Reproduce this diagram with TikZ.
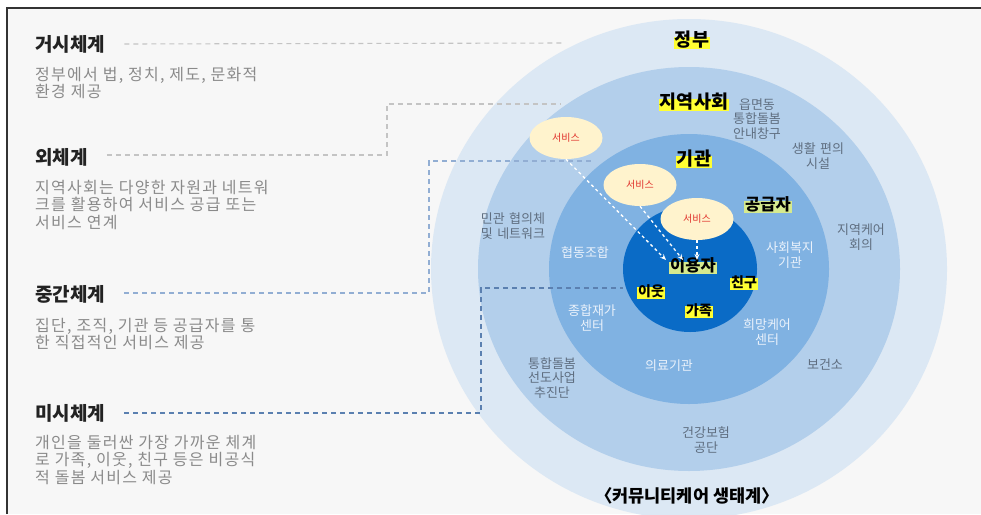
\documentclass[tikz,border=0pt]{standalone}
\usepackage{fontspec}
\setmainfont{Noto Sans CJK KR}
\newfontfamily\descfont[LetterSpace=8]{Noto Sans CJK KR}
\newfontfamily\ringfont[WordSpace=1.5]{Noto Sans CJK KR}
\usetikzlibrary{arrows.meta,shapes.geometric}
\definecolor{bgc}{HTML}{F7F7F7}
\definecolor{frm}{HTML}{333333}
\definecolor{ringa}{HTML}{DCE8F4}
\definecolor{ringb}{HTML}{B3CFEB}
\definecolor{ringc}{HTML}{80B2E2}
\definecolor{ringd}{HTML}{0A6BC6}
\definecolor{hilite}{HTML}{FFFF33}
\definecolor{hilgreen}{HTML}{D6EA8E}
\definecolor{svcfill}{HTML}{FFF3CD}
\definecolor{svctext}{HTML}{E0302A}
\definecolor{headc}{HTML}{222222}
\definecolor{descc}{HTML}{8A8A8A}
\definecolor{ringtxt}{HTML}{5F6E80}
\definecolor{innertxt}{HTML}{EAF2FB}
\definecolor{leadgray}{HTML}{C4C4C4}
\definecolor{leadblue}{HTML}{92AED3}
\definecolor{leaddark}{HTML}{5B80B0}
\tikzset{
  head/.style={anchor=west, inner sep=0pt, text=headc, font=\fontsize{19}{20}\selectfont\bfseries},
  desc/.style={anchor=west, inner sep=0pt, align=left, text=descc, font=\descfont\fontsize{16}{17.3}\selectfont},
  lead/.style={dash pattern=on 5pt off 4pt, line width=1.1pt},
  hl/.style={fill=hilite, inner sep=1.2pt, text height=0.82em, text depth=0.1em, text=black, font=\fontsize{18.5}{20}\selectfont\bfseries},
  hlsmall/.style={fill=hilite, inner sep=1pt, text height=0.82em, text depth=0.1em, text=black, font=\fontsize{14}{16}\selectfont\bfseries},
  hlg/.style={fill=hilgreen, inner sep=1.2pt, text height=0.82em, text depth=0.1em, text=black, font=\fontsize{16.5}{18}\selectfont\bfseries},
  rtxt/.style={align=center, inner sep=0pt, text=ringtxt, font=\ringfont\fontsize{13}{14.8}\selectfont},
  itxt/.style={align=center, inner sep=0pt, text=innertxt, font=\ringfont\fontsize{13}{15.5}\selectfont},
  svc/.style={ellipse, fill=svcfill, minimum width=73pt, minimum height=42pt, inner sep=0pt, text=svctext, font=\fontsize{10}{11}\selectfont},
  svcarrow/.style={white, dashed, line width=1.3pt, -{Stealth[length=6pt,width=5pt]}},
}
\begin{document}
\begin{tikzpicture}[x=1pt,y=-1pt]
\useasboundingbox (0,0) rectangle (981,514);
\fill[white] (0,0) rectangle (981,514);
\fill[bgc] (7,8) rectangle (981,514);
\begin{scope}
\clip (7,8) rectangle (981,514);
\fill[ringa] (689,269) ellipse [x radius=258pt, y radius=250pt];
\fill[ringb] (689,269) ellipse [x radius=211pt, y radius=202pt];
\fill[ringc] (689,269) ellipse [x radius=140pt, y radius=135pt];
\fill[ringd] (690,269) ellipse [x radius=67pt, y radius=63pt];
\end{scope}
\draw[frm, line width=1.3pt] (7,514) -- (7,8) -- (981,8);

% left headings and descriptions
\node[head] (h1) at (35,44) {거시체계};
\node[desc] (d1) at (35,83) {정부에서 법, 정치, 제도, 문화적\\환경 제공};
\node[head] (h2) at (35,157) {외체계};
\node[desc] (d2) at (35,205) {지역사회는 다양한 자원과 네트워\\크를 활용하여 서비스 공급 또는\\서비스 연계};
\node[head] (h3) at (35,294) {중간체계};
\node[desc] (d3) at (35,334) {집단, 조직, 기관 등 공급자를 통\\한 직접적인 서비스 제공};
\node[head] (h4) at (35,413) {미시체계};
\node[desc] (d4) at (35,460) {개인을 둘러싼 가장 가까운 체계\\로 가족, 이웃, 친구 등은 비공식\\적 돌봄 서비스 제공};

% leader line end points
\coordinate (e1) at (565,43);
\coordinate (b2a) at (387,155);
\coordinate (b2b) at (387,104);
\coordinate (e2) at (560,104);
\coordinate (b3a) at (429,293);
\coordinate (b3b) at (429,161);
\coordinate (e3) at (592,161);
\coordinate (b4a) at (481,413);
\coordinate (b4b) at (481,288);
\coordinate (e4) at (623,288);
\draw[lead, leadgray] ([xshift=19pt]h1.east) -- (e1);
\draw[lead, leadgray] ([xshift=19pt]h2.east |- b2a) -- (b2a) -- (b2b) -- (e2);
\draw[lead, leadblue] ([xshift=19pt]h3.east |- b3a) -- (b3a) -- (b3b) -- (e3);
\draw[lead, leaddark] ([xshift=19pt]h4.east |- b4a) -- (b4a) -- (b4b) -- (e4);

% community ring texts
\node[rtxt] (t1) at (757,119) {읍면동\\통합돌봄\\안내창구};
\node[rtxt] (t2) at (818,156) {생활 편의\\시설};
\node[rtxt] (t3) at (861,237) {지역케어\\회의};
\node[rtxt] (t4) at (825,365) {보건소};
\node[rtxt] (t5) at (706,440) {건강보험\\공단};
\node[rtxt] (t6) at (552,378) {통합돌봄\\선도사업\\추진단};
\node[rtxt] (t7) at (513,226) {민관 협의체\\및 네트워크};

% institution ring texts
\node[itxt] (i1) at (585,253) {협동조합};
\node[itxt] (i2) at (790,255) {사회복지\\기관};
\node[itxt] (i3) at (592,318) {종합재가\\센터};
\node[itxt] (i4) at (767,332) {희망케어\\센터};
\node[itxt] (i5) at (669,366) {의료기관};

% services
\node[svc] (s1) at (566,138) {서비스};
\node[svc] (s2) at (640,185) {서비스};
\node[svc] (s3) at (697,219) {서비스};

% ring titles
\node[hl] (gov) at (692,43) {정부};
\node[hl] (comm) at (694,105) {지역사회};
\node[hl] (inst) at (694,162) {기관};
\node[hlg] (supp) at (768,207) {공급자};
\node[hlg] (user) at (693,268) {이용자};
\node[hlsmall] (nb) at (651,293) {이웃};
\node[hlsmall] (fr) at (744,284) {친구};
\node[hlsmall] (fam) at (699,312) {가족};

\draw[svcarrow] (s1.south) -- ([xshift=-27pt,yshift=2pt]user.north);
\draw[svcarrow] (s2.south) -- ([xshift=-10pt,yshift=2pt]user.north);
\draw[svcarrow] (s3.south) -- ([xshift=4pt,yshift=2pt]user.north);

% caption
\node[inner sep=0pt, text=black, font=\fontsize{17.5}{19}\selectfont\bfseries] (cap) at (687,496) {〈커뮤니티케어 생태계〉};
\end{tikzpicture}
\end{document}
